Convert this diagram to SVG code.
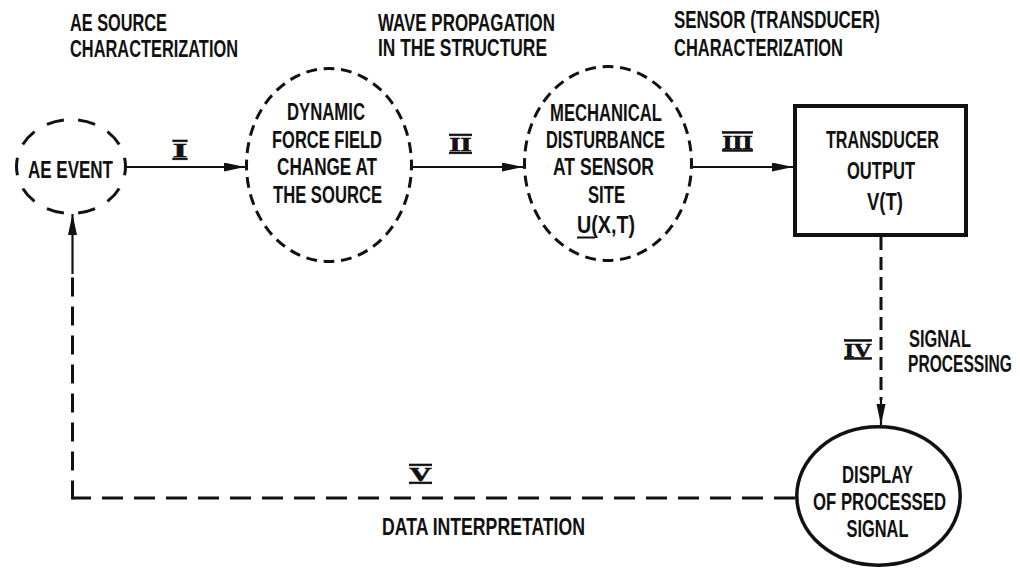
<svg xmlns="http://www.w3.org/2000/svg" width="1020" height="569" viewBox="0 0 1020 569">
<style>
text{font-family:"Liberation Sans",Arial,sans-serif;font-weight:bold;font-size:23px;fill:#111;}
.m{text-anchor:middle;}
.rn{font-family:"Liberation Serif","Times New Roman",serif;font-size:18px;text-anchor:middle;text-decoration:overline underline;text-decoration-thickness:2.8px;stroke:#111;stroke-width:0.6;}
.dash{fill:none;stroke:#111;stroke-width:3;}
.solid{fill:none;stroke:#111;stroke-width:2.2;}
.dl{fill:none;stroke:#111;stroke-width:3;}
</style>
<defs>
<marker id="ah" markerUnits="userSpaceOnUse" markerWidth="22" markerHeight="10" refX="21" refY="4.5" orient="auto">
<path d="M0,0 L21,4.5 L0,9 z" fill="#111"/>
</marker>
</defs>
<rect width="1020" height="569" fill="#fff"/>

<g id="headers">
<text x="70" y="31" textLength="97" lengthAdjust="spacingAndGlyphs">AE SOURCE</text>
<text x="70" y="57" textLength="168" lengthAdjust="spacingAndGlyphs">CHARACTERIZATION</text>
<text x="378" y="31" textLength="177" lengthAdjust="spacingAndGlyphs">WAVE PROPAGATION</text>
<text x="378" y="56" textLength="169" lengthAdjust="spacingAndGlyphs">IN THE STRUCTURE</text>
<text x="674" y="28" textLength="206" lengthAdjust="spacingAndGlyphs">SENSOR (TRANSDUCER)</text>
<text x="674" y="56" textLength="169" lengthAdjust="spacingAndGlyphs">CHARACTERIZATION</text>
</g>

<g id="ae-event">
<ellipse class="dash" cx="71" cy="166.5" rx="54.5" ry="47" pathLength="200" stroke-dasharray="11 9" stroke-dashoffset="5.5"/>
<text class="m" x="70.5" y="178" textLength="85" lengthAdjust="spacingAndGlyphs">AE EVENT</text>
</g>

<g id="dynamic-force">
<ellipse class="dash" cx="329" cy="165" rx="82.5" ry="96.5" pathLength="320" stroke-dasharray="6.2 3.8" stroke-dashoffset="3.1"/>
<text class="m" x="326" y="120" textLength="78" lengthAdjust="spacingAndGlyphs">DYNAMIC</text>
<text class="m" x="327" y="148" textLength="110" lengthAdjust="spacingAndGlyphs">FORCE FIELD</text>
<text class="m" x="327" y="175" textLength="100" lengthAdjust="spacingAndGlyphs">CHANGE AT</text>
<text class="m" x="327.5" y="203" textLength="109" lengthAdjust="spacingAndGlyphs">THE SOURCE</text>
</g>

<g id="mechanical">
<ellipse class="dash" cx="608" cy="163.5" rx="83.5" ry="97" pathLength="320" stroke-dasharray="6.2 3.8" stroke-dashoffset="3.1"/>
<text class="m" x="606" y="121" textLength="112" lengthAdjust="spacingAndGlyphs">MECHANICAL</text>
<text class="m" x="605.5" y="148" textLength="119" lengthAdjust="spacingAndGlyphs">DISTURBANCE</text>
<text class="m" x="603.5" y="175" textLength="101" lengthAdjust="spacingAndGlyphs">AT SENSOR</text>
<text class="m" x="606.5" y="203" textLength="37" lengthAdjust="spacingAndGlyphs">SITE</text>
<text class="m" x="606" y="233" textLength="58" lengthAdjust="spacingAndGlyphs">U(X,T)</text>
<line x1="577" y1="237.5" x2="595" y2="237.5" stroke="#111" stroke-width="2"/>
</g>

<g id="transducer">
<rect x="795" y="106" width="171" height="129" fill="none" stroke="#111" stroke-width="4"/>
<text class="m" x="882.5" y="148" textLength="113" lengthAdjust="spacingAndGlyphs">TRANSDUCER</text>
<text class="m" x="881" y="179" textLength="68" lengthAdjust="spacingAndGlyphs">OUTPUT</text>
<text class="m" x="885" y="210" textLength="36" lengthAdjust="spacingAndGlyphs">V(T)</text>
</g>

<g id="display">
<ellipse cx="878.5" cy="496" rx="81.7" ry="69.2" fill="none" stroke="#111" stroke-width="3.5"/>
<text class="m" x="877.5" y="483" textLength="71" lengthAdjust="spacingAndGlyphs">DISPLAY</text>
<text class="m" x="879.5" y="510" textLength="133" lengthAdjust="spacingAndGlyphs">OF PROCESSED</text>
<text class="m" x="877.5" y="537" textLength="62" lengthAdjust="spacingAndGlyphs">SIGNAL</text>
</g>

<g id="connectors">
<line class="solid" x1="127" y1="167" x2="245" y2="167" marker-end="url(#ah)"/>
<line class="solid" x1="413" y1="167" x2="523" y2="167" marker-end="url(#ah)"/>
<line class="solid" x1="693" y1="167" x2="793" y2="167" marker-end="url(#ah)"/>
<line class="dl" x1="881" y1="237" x2="881" y2="400" stroke-dasharray="13 7"/>
<line class="solid" x1="881" y1="400" x2="881" y2="425" marker-end="url(#ah)"/>
<line class="dl" x1="795" y1="498" x2="72.5" y2="498" stroke-dasharray="21 11"/>
<line class="dl" x1="72.5" y1="499.5" x2="72.5" y2="274" stroke-dasharray="19 10"/>
<line class="solid" x1="72.5" y1="274" x2="72.5" y2="214" marker-end="url(#ah)"/>
</g>

<g id="labels">
<text class="rn" x="180" y="157" textLength="14" lengthAdjust="spacingAndGlyphs">I</text>
<text class="rn" x="460.5" y="151" textLength="22" lengthAdjust="spacingAndGlyphs">II</text>
<text class="rn" x="737.5" y="148.5" textLength="30" lengthAdjust="spacingAndGlyphs">III</text>
<text class="rn" x="858" y="356.5" textLength="27" lengthAdjust="spacingAndGlyphs">IV</text>
<text class="rn" x="420.5" y="481" textLength="22" lengthAdjust="spacingAndGlyphs">V</text>
<text x="909" y="347" textLength="62" lengthAdjust="spacingAndGlyphs">SIGNAL</text>
<text transform="translate(908,372) scale(0.678,1)" x="0" y="0">PROCESSING</text>
<text x="382" y="535" textLength="203" lengthAdjust="spacingAndGlyphs">DATA INTERPRETATION</text>
</g>
</svg>
